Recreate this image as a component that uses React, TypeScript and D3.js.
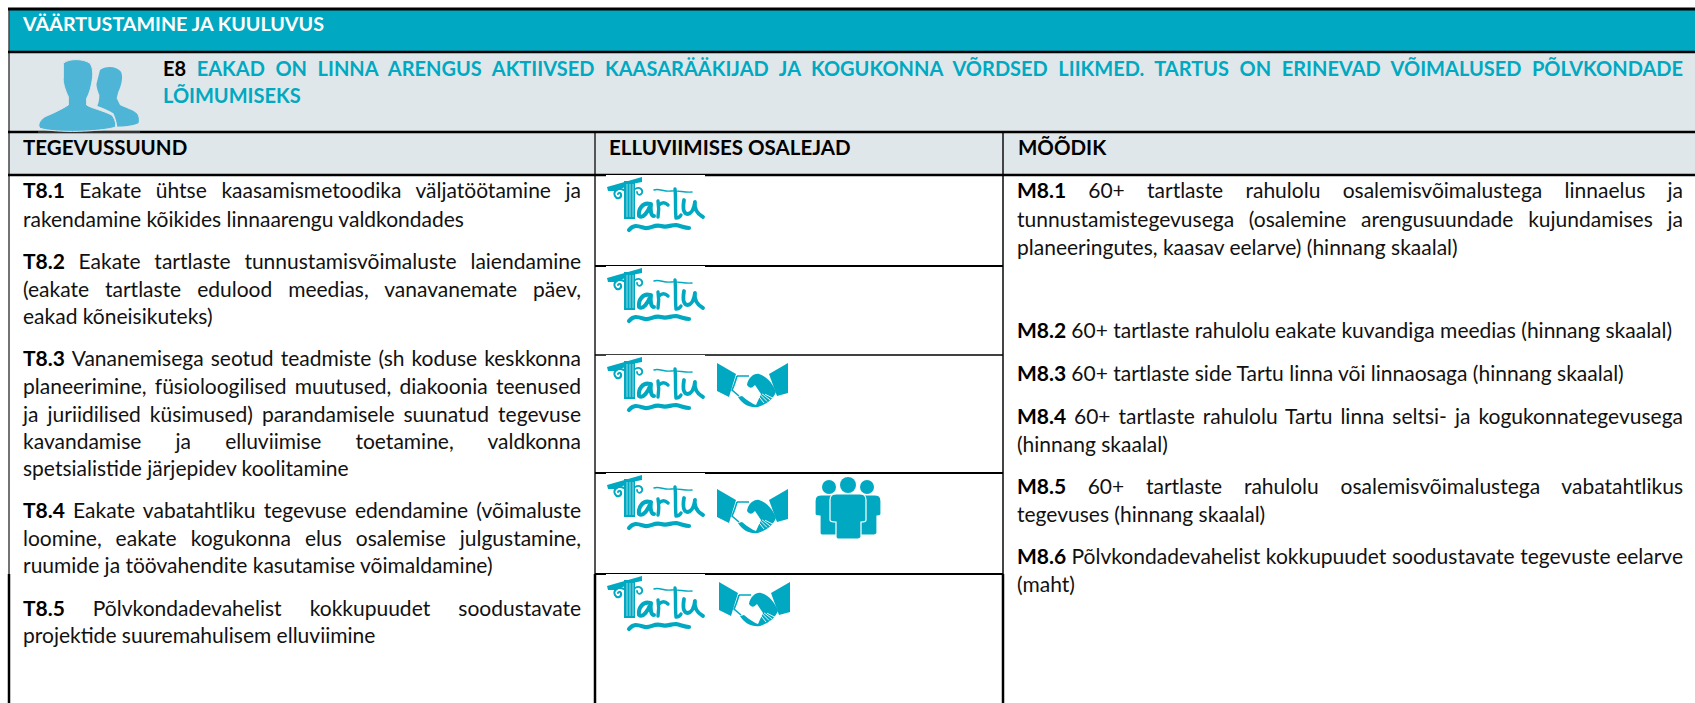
import { useEffect, useRef } from 'react';
import * as d3 from 'd3';

const TEAL = '#00a9c1';
const BAND = '#dfe7ea';

const sectionTitle = 'VÄÄRTUSTAMINE JA KUULUVUS';
const goalCode = 'E8';
const goalLines = [
    'EAKAD ON LINNA ARENGUS AKTIIVSED KAASARÄÄKIJAD JA KOGUKONNA VÕRDSED LIIKMED. TARTUS ON ERINEVAD VÕIMALUSED PÕLVKONDADE',
    'LÕIMUMISEKS',
];
const columnHeads = ['TEGEVUSSUUND', 'ELLUVIIMISES OSALEJAD', 'MÕÕDIK'];

// [bold code, text, justified]
const actionLines: [string, string, boolean][] = [
    ['T8.1', 'Eakate ühtse kaasamismetoodika väljatöötamine ja', true],
    ['', 'rakendamine kõikides linnaarengu valdkondades', false],
    ['T8.2', 'Eakate tartlaste tunnustamisvõimaluste laiendamine', true],
    ['', '(eakate tartlaste edulood meedias, vanavanemate päev,', true],
    ['', 'eakad kõneisikuteks)', false],
    ['T8.3', 'Vananemisega seotud teadmiste (sh koduse keskkonna', true],
    ['', 'planeerimine, füsioloogilised muutused, diakoonia teenused', true],
    ['', 'ja juriidilised küsimused) parandamisele suunatud tegevuse', true],
    ['', 'kavandamise ja elluviimise toetamine, valdkonna', true],
    ['', 'spetsialistide järjepidev koolitamine', false],
    ['T8.4', 'Eakate vabatahtliku tegevuse edendamine (võimaluste', true],
    ['', 'loomine, eakate kogukonna elus osalemise julgustamine,', true],
    ['', 'ruumide ja töövahendite kasutamise võimaldamine)', false],
    ['T8.5', 'Põlvkondadevahelist kokkupuudet soodustavate', true],
    ['', 'projektide suuremahulisem elluviimine', false],
];
const actionBaselines = [198, 227, 269, 297, 324, 366, 394, 422, 449, 476, 518, 546, 573, 616, 643];

const metricLines: [string, string, boolean][] = [
    ['M8.1', '60+ tartlaste rahulolu osalemisvõimalustega linnaelus ja', true],
    ['', 'tunnustamistegevusega (osalemine arengusuundade kujundamises ja', true],
    ['', 'planeeringutes, kaasav eelarve) (hinnang skaalal)', false],
    ['M8.2', '60+ tartlaste rahulolu eakate kuvandiga meedias (hinnang skaalal)', false],
    ['M8.3', '60+ tartlaste side Tartu linna või linnaosaga (hinnang skaalal)', false],
    ['M8.4', '60+ tartlaste rahulolu Tartu linna seltsi- ja kogukonnategevusega', true],
    ['', '(hinnang skaalal)', false],
    ['M8.5', '60+ tartlaste rahulolu osalemisvõimalustega vabatahtlikus', true],
    ['', 'tegevuses (hinnang skaalal)', false],
    ['M8.6', 'Põlvkondadevahelist kokkupuudet soodustavate tegevuste eelarve', true],
    ['', '(maht)', false],
];
const metricBaselines = [198, 227, 255, 338, 381, 424, 452, 494, 522, 564, 592];

const rowTops = [175, 266, 355, 473, 574];
const participants = [
    ['tartu'],
    ['tartu'],
    ['tartu', 'hands'],
    ['tartu', 'hands', 'people'],
    ['tartu', 'hands'],
];
const handsOffset = [0, 0, 8, 16, 8];

function drawTartu(g: any) {
    g.append('rect').attr('x', -1).attr('width', 99).attr('height', 58).attr('fill', '#fff');
    g.append('path').attr('d', 'M0,12 L35,2 L35,7 L25,9 L9,16 L1,16 Z').attr('fill', TEAL);
    g.append('rect').attr('x', 17).attr('y', 6).attr('width', 11).attr('height', 38).attr('fill', TEAL);
    [20, 23, 26].forEach((x) => {
        g.append('line').attr('x1', x).attr('x2', x).attr('y1', 9).attr('y2', 42)
            .attr('stroke', '#bfe9f0').attr('stroke-width', 0.8);
    });
    const stroke = (d: string, w: number) =>
        g.append('path').attr('d', d).attr('fill', 'none').attr('stroke', TEAL)
            .attr('stroke-width', w).attr('stroke-linecap', 'round').attr('stroke-linejoin', 'round');
    stroke('M17,15 C10,12 6,17 8,21 C10,25 15,23 14,19 C13,17 11,18 11,19', 2);
    stroke('M28,14 C33,11 36,15 35,18 C33,21 30,20 30,17', 1.8);
    stroke('M43,29 C36,27 31,34 32,41 C36,44 41,37 44,29 C43,35 44,41 47,41', 4);
    stroke('M51,26 C52,32 52,37 51,42 M52,30 C55,27 58,27 61,30', 3.4);
    stroke('M47,15 C52,13 57,17 64,16 C71,15 78,18 85,17', 1.4);
    stroke('M68,14 C69,23 68,33 69,43 C71,43 73,42 74,40', 3.4);
    stroke('M77,25 C76,31 76,38 80,39 C84,39 87,34 88,27 C87,33 89,38 96,42', 3.8);
    stroke('M22,55 C27,49 31,51 38,53 C44,54 47,49 54,51 C60,53 63,50 69,50 C74,51 78,53 82,53', 4.2);
}

function drawHands(g: any) {
    g.append('path').attr('d', 'M0,0 L19,11 L12,34 L0,28 Z').attr('fill', TEAL);
    g.append('path').attr('d', 'M71,0 L52,11 L60,33 L71,30 Z').attr('fill', TEAL);
    g.append('path')
        .attr('d', 'M20,13 L32,13 M20,13 C18,20 16,25 15,27 L22,33')
        .attr('fill', 'none').attr('stroke', TEAL).attr('stroke-width', 1.6);
    g.append('path')
        .attr('d', 'M30,22 C31,15 37,10 42,11 C49,13 56,20 59,29 C56,36 50,41 41,44 C33,45 26,42 21,34 L25,33 C31,38 36,41 39,42 L44,31 L38,22 C35,25 33,26 30,22 Z')
        .attr('fill', TEAL);
    [0, 1, 2, 3].forEach((i) => {
        g.append('line').attr('x1', 39 + i * 3).attr('y1', 30 + i * 0.4).attr('x2', 47 + i * 3).attr('y2', 40 - i * 1.6)
            .attr('stroke', '#fff').attr('stroke-width', 0.9);
    });
}

function drawPeople(g: any) {
    const body = (x0: number, x1: number, top: number, armY: number, a: number, bottom: number) => {
        const r = 6;
        g.append('path')
            .attr('d', `M${x0 + r},${top} H${x1 - r} Q${x1},${top} ${x1},${top + r} V${armY} Q${x1},${armY + 2} ${x1 - a + 1},${armY + 2}
                V${bottom - 2} Q${x1 - a},${bottom} ${x1 - a - 2},${bottom} H${x0 + a + 2} Q${x0 + a},${bottom} ${x0 + a},${bottom - 2}
                V${armY + 2} Q${x0},${armY + 2} ${x0},${armY} V${top + r} Q${x0},${top} ${x0 + r},${top} Z`)
            .attr('fill', TEAL).attr('stroke', '#fff').attr('stroke-width', 1.2);
    };
    g.append('circle').attr('cx', 14).attr('cy', 10).attr('r', 7).attr('fill', TEAL);
    g.append('circle').attr('cx', 52).attr('cy', 10).attr('r', 7).attr('fill', TEAL);
    g.append('circle').attr('cx', 33).attr('cy', 8).attr('r', 8).attr('fill', TEAL);
    body(0, 30, 18, 37, 5, 58);
    body(36, 66, 18, 37, 5, 58);
    body(15, 51, 17, 43, 6, 62);
}

function drawGoalIcon(g: any) {
    const color = '#4fb5d6';
    g.append('path')
        .attr('d', 'M240,60 C255,47 290,47 303,65 C310,80 305,105 295,125 L290,145 L300,165 C320,175 340,180 350,190 C358,200 358,215 355,220 C335,228 310,230 292,230 C290,215 285,200 280,190 C265,180 245,172 232,168 C238,155 238,140 238,135 C232,120 228,105 230,100 Z')
        .attr('fill', color);
    g.append('path')
        .attr('d', 'M130,40 C145,25 190,25 210,40 C220,55 220,75 215,100 C210,125 205,135 200,145 L200,165 C215,175 245,180 275,195 C285,205 290,225 285,232 C240,245 110,250 60,235 C52,225 58,212 75,200 C100,190 130,175 145,165 L145,140 C135,120 128,95 130,85 Z')
        .attr('fill', color).attr('stroke', BAND).attr('stroke-width', 3);
}

export default function App() {
    const svgRef = useRef<SVGSVGElement>(null);

    useEffect(() => {
        const svg = d3.select(svgRef.current);
        svg.selectAll('*').remove();
        const font = 'Lato, "Open Sans", sans-serif';
        const size = 21;

        svg.append('rect').attr('x', 9).attr('y', 9).attr('width', 1686).attr('height', 43).attr('fill', TEAL);
        svg.append('rect').attr('x', 9).attr('y', 52).attr('width', 1686).attr('height', 123).attr('fill', BAND);

        const hLine = (x1: number, x2: number, y: number, w: number, color = '#000') =>
            svg.append('line').attr('x1', x1).attr('x2', x2).attr('y1', y).attr('y2', y)
                .attr('stroke', color).attr('stroke-width', w);
        const vLine = (x: number, y1: number, y2: number, w: number, color = '#000') =>
            svg.append('line').attr('x1', x).attr('x2', x).attr('y1', y1).attr('y2', y2)
                .attr('stroke', color).attr('stroke-width', w);

        const drawLine = (
            code: string, text: string, x: number, right: number, y: number, justified: boolean,
            opts: { fill?: string; weight?: number; fs?: number } = {},
        ) => {
            const t = svg.append('text')
                .attr('x', x).attr('y', y)
                .attr('font-family', font)
                .attr('font-size', opts.fs ?? size)
                .attr('font-weight', opts.weight ?? 400)
                .attr('fill', opts.fill ?? '#111')
                .attr('xml:space', 'preserve');
            if (code) {
                t.append('tspan').attr('font-weight', 700).attr('fill', '#000').text(code + ' ');
            }
            t.append('tspan').text(text);
            if (justified) {
                const len = (t.node() as SVGTextElement).getComputedTextLength();
                const gaps = (code ? code + ' ' + text : text).split(' ').length - 1;
                if (gaps > 0) t.attr('word-spacing', (right - x - len) / gaps);
            }
            return t;
        };

        vLine(595, 132, 574, 2, '#555');
        vLine(595, 574, 703, 2.5);
        vLine(1003, 132, 574, 2, '#444');
        vLine(1003, 574, 703, 2.5);
        vLine(9, 9, 574, 1.5, '#444');
        vLine(9, 574, 703, 2.5);

        hLine(8, 1695, 9, 3);
        hLine(8, 1695, 52, 2.5);
        hLine(8, 1695, 132, 2.5);
        hLine(8, 1695, 175, 2.5);
        hLine(595, 1003, 266, 2);
        hLine(595, 1003, 355, 1.5);
        hLine(595, 1003, 473, 2);
        hLine(595, 1003, 574, 2);
        hLine(38, 140, 132, 1, '#666').attr('stroke-width', 1);

        drawLine('', sectionTitle, 23, 0, 31, false, { fill: '#fff', weight: 700, fs: 19.7 });

        const icon = svg.append('g').attr('transform', 'translate(20,50) scale(0.3333)');
        drawGoalIcon(icon);

        drawLine(goalCode, goalLines[0], 163, 1683, 76, true, { fill: TEAL, weight: 700, fs: 20 });
        drawLine('', goalLines[1], 163, 0, 103, false, { fill: TEAL, weight: 700, fs: 20 });

        const headX = d3.scaleOrdinal<number, number>().domain([0, 1, 2]).range([23, 609, 1018]);
        columnHeads.forEach((h, i) => {
            drawLine('', h, headX(i), 0, 155, false, { fill: '#000', weight: 700, fs: 20.5 });
        });

        actionLines.forEach(([code, text, j], i) => {
            drawLine(code, text, 23, 581, actionBaselines[i], j);
        });
        metricLines.forEach(([code, text, j], i) => {
            drawLine(code, text, 1017, 1683, metricBaselines[i], j);
        });

        participants.forEach((list, row) => {
            list.forEach((name) => {
                if (name === 'tartu') {
                    drawTartu(svg.append('g').attr('transform', `translate(607,${rowTops[row]})`));
                } else if (name === 'hands') {
                    drawHands(svg.append('g').attr('transform', `translate(${row === 4 ? 719 : 717},${rowTops[row] + handsOffset[row]})`));
                } else {
                    drawPeople(svg.append('g').attr('transform', `translate(815,${rowTops[row] + 4})`));
                }
            });
        });
    }, []);

    return (
        <div style={{ position: 'absolute', left: 0, top: 0 }}>
            <svg ref={svgRef} width={1695} height={703} style={{ display: 'block', background: '#fff' }} />
        </div>
    );
}
